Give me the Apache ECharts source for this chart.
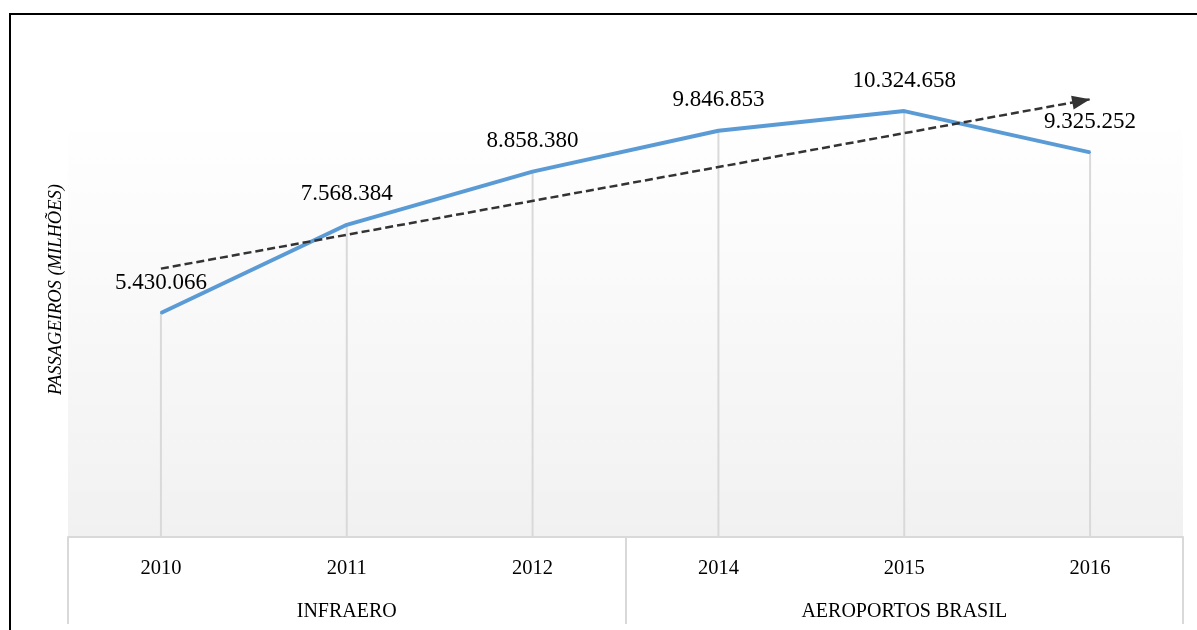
<!DOCTYPE html>
<html>
<head>
<meta charset="utf-8">
<script src="https://cdn.jsdelivr.net/npm/echarts@6/dist/echarts.min.js"></script>
<style>
  html, body { margin: 0; padding: 0; background: #fff; }
  #chart { width: 1197px; height: 630px; }
</style>
</head>
<body>
<div id="chart"></div>
<script>
const years = ['2010', '2011', '2012', '2014', '2015', '2016'];
const groups = ['INFRAERO', 'AEROPORTOS BRASIL'];
const passengers = [5430066, 7568384, 8858380, 9846853, 10324658, 9325252];
// trend line ends
const trendEnds = [6506000, 10611000];

const fmt = v => String(v).replace(/\B(?=(\d{3})+(?!\d))/g, '.');
const serif = '"Liberation Serif", "Times New Roman", serif';

const chart = echarts.init(document.getElementById('chart'));

chart.setOption({
  animation: false,
  textStyle: { fontFamily: serif },
  grid: {
    left: 68,
    right: 14,
    top: 42,
    bottom: 93,
    show: true,
    borderWidth: 0,
    backgroundColor: {
      type: 'linear', x: 0, y: 0, x2: 0, y2: 1,
      colorStops: [
        { offset: 0, color: '#ffffff' },
        { offset: 0.15, color: '#ffffff' },
        { offset: 1, color: '#f1f1f1' }
      ]
    }
  },
  graphic: [{
    type: 'rect',
    shape: { x: 10, y: 14, width: 1200, height: 640 },
    style: { fill: 'none', stroke: '#000', lineWidth: 2 },
    silent: true
  }],
  xAxis: [
    {
      type: 'category',
      data: years,
      position: 'bottom',
      axisLine: { lineStyle: { color: '#d9d9d9', width: 2 } },
      axisTick: { show: false },
      axisLabel: { color: '#000', fontSize: 20.5, fontFamily: serif, margin: 21 }
    },
    {
      type: 'category',
      data: groups,
      position: 'bottom',
      axisLine: { show: false },
      axisTick: { show: true, interval: 0, length: 87, lineStyle: { color: '#d9d9d9', width: 2 } },
      axisLabel: { color: '#000', fontSize: 20, fontFamily: serif, margin: 65, interval: 0 }
    }
  ],
  yAxis: {
    type: 'value',
    min: 0,
    max: 12000000,
    name: 'PASSAGEIROS (MILHÕES)',
    nameLocation: 'middle',
    nameGap: 2,
    nameTextStyle: { fontFamily: serif, fontStyle: 'italic', fontSize: 18.5, color: '#000' },
    axisLine: { show: false },
    axisTick: { show: false },
    axisLabel: { show: false },
    splitLine: { show: false }
  },
  series: [
    {
      type: 'bar',
      data: passengers,
      barWidth: 2,
      itemStyle: { color: '#d9d9d9' },
      silent: true,
      z: 1
    },
    {
      type: 'line',
      data: passengers,
      symbol: 'circle',
      symbolSize: 2,
      showSymbol: true,
      itemStyle: { color: '#5b9bd5' },
      lineStyle: { color: '#5b9bd5', width: 4 },
      label: {
        show: true,
        position: 'top',
        distance: 18,
        color: '#000',
        fontSize: 23,
        fontFamily: serif,
        formatter: p => fmt(p.value)
      },
      markLine: {
        silent: true,
        symbol: ['none', 'triangle'],
        symbolSize: [14, 18],
        symbolOffset: [[0, 0], [0, 9]],
        label: { show: false },
        itemStyle: { color: '#333' },
        lineStyle: { color: '#333', type: [8, 4], width: 2.5 },
        data: [[
          { coord: [0, trendEnds[0]] },
          { coord: [5, trendEnds[1]] }
        ]]
      },
      z: 3
    }
  ]
});
</script>
</body>
</html>
